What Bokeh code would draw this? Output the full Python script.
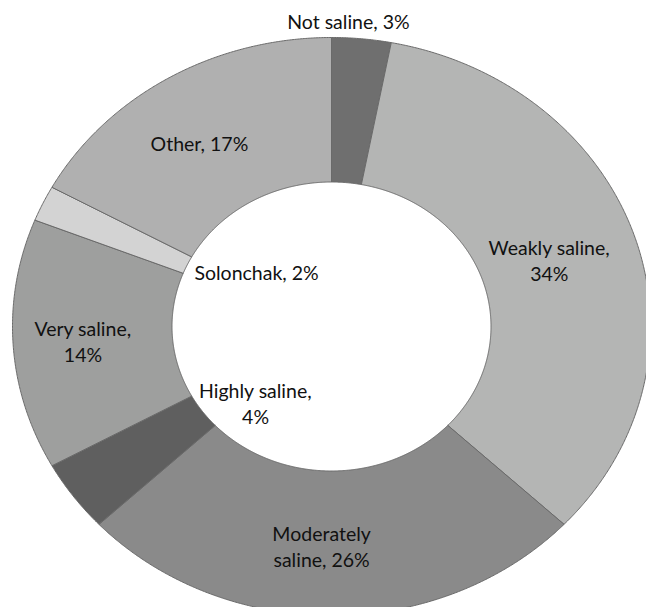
import numpy as np
from bokeh.plotting import figure
from bokeh.models import Range1d, ColumnDataSource
from bokeh.core.properties import value
from bokeh.embed import file_html
from bokeh.resources import INLINE

# ---- data ----
categories = ["Not saline", "Weakly saline", "Moderately saline", "Highly saline",
              "Very saline", "Solonchak", "Other"]
shares = [3, 34, 26, 4, 14, 2, 17]
label_texts = ["Not saline, 3%", "Weakly saline,\n34%", "Moderately\nsaline, 26%",
               "Highly saline,\n4%", "Very saline,\n14%", "Solonchak, 2%", "Other, 17%"]

# ---- style / layout ----
colors = ["#6f6f6f", "#b4b5b4", "#8a8a8a", "#5f5f5f", "#9e9f9e", "#d3d3d3", "#b0b0b0"]
label_x = [0.053, 0.683, -0.031, -0.238, -0.779, -0.235, -0.414]
label_y = [1.055, 0.228, -0.761, -0.266, -0.052, 0.187, 0.633]
inner_r = 0.5
outer_r = 1.0

W, H = 646, 607
cx_px, cy_px, rx_px, ry_px = 331, 326, 319, 289

p = figure(width=W, height=H, output_backend="svg", toolbar_location=None,
           x_range=Range1d(-cx_px / rx_px, (W - cx_px) / rx_px),
           y_range=Range1d(-(H - cy_px) / ry_px, cy_px / ry_px),
           min_border=0)
p.axis.visible = False
p.grid.visible = False
p.outline_line_color = None
p.background_fill_color = "white"
p.border_fill_color = "white"

total = float(sum(shares))
cum = np.concatenate([[0], np.cumsum(shares)]) / total
xs, ys = [], []
for i in range(len(shares)):
    a0 = cum[i] * 2 * np.pi
    a1 = cum[i + 1] * 2 * np.pi
    n = max(8, int(200 * (a1 - a0)))
    t = np.linspace(a0, a1, n)
    ox = outer_r * np.sin(t)
    oy = outer_r * np.cos(t)
    ix = inner_r * np.sin(t[::-1])
    iy = inner_r * np.cos(t[::-1])
    xs.append(list(np.concatenate([ox, ix])))
    ys.append(list(np.concatenate([oy, iy])))

src = ColumnDataSource(dict(xs=xs, ys=ys, color=colors, cat=categories))
p.patches("xs", "ys", source=src, fill_color="color", line_color="#6a6a6a", line_width=1)

lsrc = ColumnDataSource(dict(x=label_x, y=label_y, text=label_texts))
p.text("x", "y", text="text", source=lsrc, text_align="center", text_baseline="middle",
       text_font=value("Lato"), text_font_size="19.5px", text_color="#111111",
       text_line_height=1.1)

open("out.html", "w").write(file_html(p, INLINE))
